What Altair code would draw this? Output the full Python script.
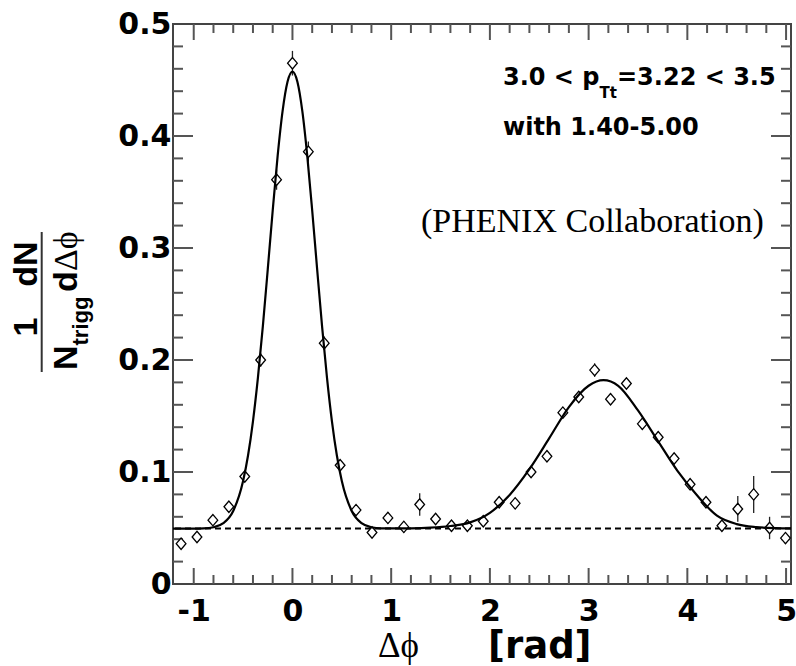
import altair as alt
import pandas as pd

# ---------------- data ----------------
dphi = [-1.128, -0.967, -0.806, -0.644, -0.483, -0.322, -0.161, 0.0, 0.161, 0.322,
        0.483, 0.644, 0.806, 0.967, 1.128, 1.289, 1.450, 1.611, 1.772, 1.933,
        2.094, 2.256, 2.417, 2.578, 2.739, 2.900, 3.061, 3.222, 3.383, 3.544,
        3.705, 3.866, 4.028, 4.189, 4.350, 4.511, 4.672, 4.833, 4.994]
yield_vals = [0.036, 0.042, 0.057, 0.069, 0.096, 0.200, 0.361, 0.465, 0.386, 0.215,
              0.106, 0.066, 0.046, 0.059, 0.051, 0.071, 0.058, 0.052, 0.052, 0.056,
              0.073, 0.072, 0.100, 0.114, 0.153, 0.167, 0.191, 0.165, 0.179, 0.143,
              0.131, 0.112, 0.089, 0.073, 0.052, 0.067, 0.080, 0.050, 0.041]
yield_err = [0.004, 0.004, 0.004, 0.004, 0.005, 0.006, 0.009, 0.011, 0.009, 0.006,
             0.005, 0.004, 0.004, 0.005, 0.005, 0.010, 0.005, 0.005, 0.005, 0.005,
             0.005, 0.005, 0.005, 0.005, 0.005, 0.005, 0.006, 0.005, 0.005, 0.005,
             0.005, 0.005, 0.005, 0.005, 0.005, 0.0115, 0.0165, 0.010, 0.005]

fit_x = [-1.21, -1.0, -0.9, -0.8, -0.7, -0.6, -0.5, -0.45, -0.4, -0.35, -0.3, -0.25,
         -0.2, -0.15, -0.1, -0.05, 0.0, 0.05, 0.1, 0.15, 0.2, 0.25, 0.3, 0.35, 0.4,
         0.45, 0.5, 0.6, 0.7, 0.8, 0.9, 1.0, 1.2, 1.4, 1.6, 1.8, 2.0, 2.2, 2.4, 2.6,
         2.8, 3.0, 3.15, 3.3, 3.5, 3.7, 3.9, 4.1, 4.3, 4.5, 4.7, 4.9, 5.05]
fit_y = [0.0495, 0.0495, 0.0497, 0.0507, 0.0543, 0.0652, 0.0919, 0.1147, 0.1453,
         0.1841, 0.2301, 0.2812, 0.3335, 0.3823, 0.4222, 0.4484, 0.4575, 0.4484,
         0.4222, 0.3823, 0.3335, 0.2812, 0.2301, 0.1841, 0.1453, 0.1147, 0.0919,
         0.0652, 0.0543, 0.0507, 0.0497, 0.0496, 0.0497, 0.0503, 0.0518, 0.0550,
         0.0635, 0.0795, 0.1025, 0.1300, 0.1580, 0.1770, 0.1820, 0.1770, 0.1550,
         0.1280, 0.1010, 0.0790, 0.0610, 0.0535, 0.0508, 0.0499, 0.0497]
pedestal = [0.0495]

x_major = [-1, 0, 1, 2, 3, 4, 5]
x_minor = [-0.8, -0.6, -0.4, -0.2, 0.2, 0.4, 0.6, 0.8, 1.2, 1.4, 1.6, 1.8,
           2.2, 2.4, 2.6, 2.8, 3.2, 3.4, 3.6, 3.8, 4.2, 4.4, 4.6, 4.8]
y_major = [0.1, 0.2, 0.3, 0.4]
y_minor = [0.02, 0.04, 0.06, 0.08, 0.12, 0.14, 0.16, 0.18, 0.22, 0.24, 0.26, 0.28,
           0.32, 0.34, 0.36, 0.38, 0.42, 0.44, 0.46, 0.48]
x_labels = [-1, 0, 1, 2, 3, 4, 5]
y_labels = [0, 0.1, 0.2, 0.3, 0.4, 0.5]

info_line1 = ["3.0 < p", "Tt", "=3.22 < 3.5"]
info_line2 = "with 1.40-5.00"
collab = "(PHENIX Collaboration)"
xtitle = ["\u0394\u03d5", "[rad]"]
ytitle = ["1", "N", "trigg", "dN", "d", "\u0394\u03d5"]

# ---------------- layout ----------------
W, H = 618, 560
PAD = {"left": 173, "top": 24, "right": 5, "bottom": 82}
TICK = "#555555"
SANS_B = "DejaVu Sans"
SANS_Y = "Liberation Sans"
SERIF = "Liberation Serif"

xs = alt.Scale(domain=[-1.21, 5.05], nice=False, zero=False)
ys = alt.Scale(domain=[0, 0.5], nice=False, zero=False)

x_axis = alt.Axis(values=x_labels, ticks=False, tickSize=0, domain=False, grid=False,
                  labelFont=SANS_B, labelFontWeight="bold", labelFontSize=30,
                  labelColor="black", labelPadding=12, labelFlush=False,
                  labelOverlap=False,
                  labelExpr="datum.value < 0 ? '-' + format(-datum.value, 'd') : format(datum.value, 'd')",
                  title=None)
y_axis = alt.Axis(values=y_labels, ticks=False, tickSize=0, domain=False, grid=False,
                  labelFont=SANS_B, labelFontWeight="bold", labelFontSize=30,
                  labelColor="black", labelPadding=2, labelFlush=False,
                  labelOverlap=False,
                  labelExpr="datum.value == 0 ? '0' : format(datum.value, '.1f')",
                  title=None)


def X(field):
    return alt.X(field, type="quantitative", scale=xs, axis=x_axis)


def Y(field):
    return alt.Y(field, type="quantitative", scale=ys, axis=y_axis)


def xticks(vals, y0, y1):
    return alt.Chart(pd.DataFrame({"v": vals})).mark_rule(color=TICK, strokeWidth=2).encode(
        x=X("v"), y=alt.value(y0), y2=alt.value(y1))


def yticks(vals, x0, x1):
    return alt.Chart(pd.DataFrame({"v": vals})).mark_rule(color=TICK, strokeWidth=2).encode(
        y=Y("v"), x=alt.value(x0), x2=alt.value(x1))


def txt(text, x, y, size, font, weight="normal", align="left", angle=0):
    return alt.Chart(alt.Data(values=[{}])).mark_text(
        text=text, font=font, fontSize=size, fontWeight=weight, align=align,
        baseline="alphabetic", angle=angle, color="black").encode(
        x=alt.value(x), y=alt.value(y))


ticks = [
    xticks(x_major, H, H - 16), xticks(x_minor, H, H - 9),
    xticks(x_major, 0, 16), xticks(x_minor, 0, 9),
    yticks(y_major, 0, 20), yticks(y_minor, 0, 10),
    yticks(y_major, W, W - 20), yticks(y_minor, W, W - 10),
]

pts = pd.DataFrame({"dphi": dphi, "val": yield_vals,
                    "lo": [v - e for v, e in zip(yield_vals, yield_err)],
                    "hi": [v + e for v, e in zip(yield_vals, yield_err)]})

errbars = alt.Chart(pts).mark_rule(color="#222222", strokeWidth=1.3).encode(
    x=X("dphi"), y=Y("lo"), y2="hi:Q")

dashed = alt.Chart(pd.DataFrame({"p": pedestal})).mark_rule(
    color="black", strokeWidth=2, strokeDash=[6, 4]).encode(y=Y("p"))

points = alt.Chart(pts).mark_point(
    shape="M-0.85,0L0,-1L0.85,0L0,1Z", size=130, filled=False, fill="white",
    fillOpacity=1, stroke="black", strokeWidth=1.3, opacity=1).encode(
    x=X("dphi"), y=Y("val"))

curve = alt.Chart(pd.DataFrame({"fx": fit_x, "fy": fit_y})).mark_line(
    color="black", strokeWidth=2.2, interpolate="monotone", clip=True).encode(
    x=X("fx"), y=Y("fy"))

ox, oy = PAD["left"], PAD["top"]
texts = [
    txt(info_line1[0], 503 - ox, 85 - oy, 24, SANS_B, "bold"),
    txt(info_line1[1], 599.5 - ox, 98 - oy, 15, SANS_B, "bold"),
    txt(info_line1[2], 617 - ox, 85 - oy, 24, SANS_B, "bold"),
    txt(info_line2, 503 - ox, 135 - oy, 24, SANS_B, "bold"),
    txt(collab, 421 - ox, 232 - oy, 34, SERIF),
    txt(xtitle[0], 378 - ox, 657 - oy, 35, SERIF),
    txt(xtitle[1], 488 - ox, 658 - oy, 37, SANS_B, "bold"),
    # rotated y title: 1/N_trigg dN/dDelta-phi
    txt(ytitle[0], 37 - ox, 327 - oy, 34, SANS_Y, "bold", "center", 270),
    txt(ytitle[1], 76.7 - ox, 370 - oy, 34, SANS_Y, "bold", "left", 270),
    txt(ytitle[2], 88 - ox, 345.5 - oy, 22, SANS_Y, "bold", "left", 270),
    txt(ytitle[3], 37 - ox, 264 - oy, 34, SANS_Y, "bold", "center", 270),
    txt(ytitle[4], 76.7 - ox, 292 - oy, 34, SANS_Y, "bold", "left", 270),
    txt(ytitle[5], 76.7 - ox, 271 - oy, 34, SERIF, "normal", "left", 270),
]

frac_bar = alt.Chart(alt.Data(values=[{}])).mark_rule(color="#333333", strokeWidth=2).encode(
    x=alt.value(41.7 - ox), y=alt.value(232 - oy), y2=alt.value(372 - oy))

chart = alt.layer(
    *ticks, dashed, errbars, points, curve, *texts, frac_bar
).properties(
    width=W, height=H,
    padding=PAD,
    autosize=alt.AutoSizeParams(type="none"),
    background="white",
).configure_view(stroke="#444444", strokeWidth=2)

chart.save("out.html", embed_options={"renderer": "svg", "actions": False})
